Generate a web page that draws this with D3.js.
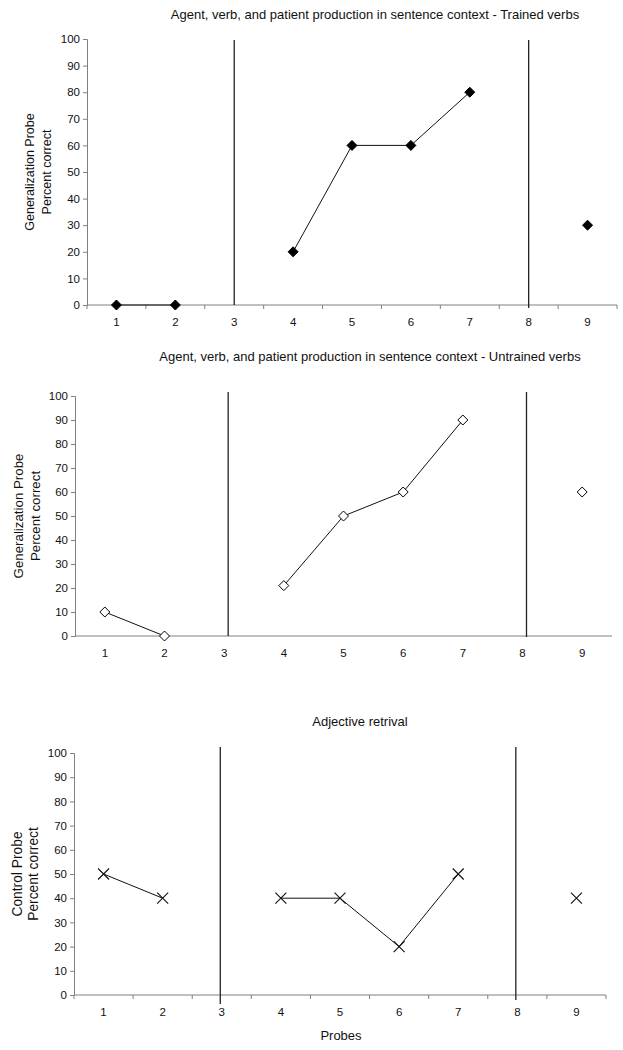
<!DOCTYPE html>
<html>
<head>
<meta charset="utf-8">
<script src="https://d3js.org/d3.v7.min.js"></script>
<style>
  body { margin: 0; background: #fff; }
  text { font-family: "Liberation Sans", Arial, sans-serif; fill: #111; }
</style>
</head>
<body>
<div id="chart"></div>
<script>
// probe sessions (3 and 8 are phase-change lines, no data)
var probes = [1, 2, 3, 4, 5, 6, 7, 8, 9];
var yTicks = [0, 10, 20, 30, 40, 50, 60, 70, 80, 90, 100];
var phaseLines = [3, 8];

var trainedVerbs   = [0, 0, null, 20, 60, 60, 80, null, 30];
var untrainedVerbs = [10, 0, null, 21, 50, 60, 90, null, 60];
var adjectives     = [50, 40, null, 40, 40, 20, 50, null, 40];

var titles = [
  "Agent, verb, and patient production in sentence context - Trained verbs",
  "Agent, verb, and patient production in sentence context - Untrained verbs",
  "Adjective retrival"
];
var yTitles = [
  ["Generalization Probe", "Percent correct"],
  ["Generalization Probe", "Percent correct"],
  ["Control Probe", "Percent correct"]
];

var svg = d3.select("#chart").append("svg")
  .attr("width", 623)
  .attr("height", 1050);

// layout of each panel
var panels = [
  {values: trainedVerbs, marker: "filled", left: 87, right: 617, top: 39, bottom: 305,
   titleX: 375, titleY: 19, yt1: 30, yt2: 47, ytSize: 12.5, xTicks: true,
   lineTop: 40, lineBottom: [305, 308], lineShift: 0},
  {values: untrainedVerbs, marker: "open", left: 75, right: 612, top: 396, bottom: 636,
   titleX: 370, titleY: 361, yt1: 18, yt2: 35, ytSize: 13.3, xTicks: false,
   lineTop: 392, lineBottom: [636, 637], lineShift: 4},
  {values: adjectives, marker: "cross", left: 74, right: 606, top: 753, bottom: 995,
   titleX: 360, titleY: 726, yt1: 17, yt2: 33, ytSize: 13.8, xTicks: true,
   lineTop: 747, lineBottom: [1004, 1000], lineShift: -1.5}
];

panels.forEach(function(p, i) {
  var x = d3.scaleBand().domain(probes).range([p.left, p.right]);
  var y = d3.scaleLinear().domain([0, 100]).range([p.bottom, p.top]);
  var cx = function(d) { return x(d) + x.bandwidth() / 2; };
  var g = svg.append("g");

  // title
  g.append("text")
    .attr("x", p.titleX).attr("y", p.titleY)
    .attr("text-anchor", "middle")
    .style("font-size", "13px")
    .text(titles[i]);

  // y axis
  var yAxis = d3.axisLeft(y).tickValues(yTicks).tickSize(4).tickPadding(3);
  var ya = g.append("g").attr("transform", "translate(" + p.left + ",0)").call(yAxis);
  ya.select(".domain").attr("stroke", "#808080");
  ya.selectAll(".tick line").attr("stroke", "#808080");
  ya.selectAll("text").style("font-size", "11.5px").attr("fill", "#111");

  // x axis line
  g.append("line")
    .attr("x1", p.left).attr("x2", p.right)
    .attr("y1", p.bottom).attr("y2", p.bottom)
    .attr("stroke", "#808080");

  // tick marks between probes
  if (p.xTicks) {
    g.selectAll(".xt").data(probes.concat([10])).enter().append("line")
      .attr("x1", function(d) { return d === 10 ? p.right : x(d); })
      .attr("x2", function(d) { return d === 10 ? p.right : x(d); })
      .attr("y1", p.bottom).attr("y2", p.bottom + 4)
      .attr("stroke", "#808080");
  }

  // x tick labels
  g.selectAll(".xl").data(probes).enter().append("text")
    .attr("x", cx)
    .attr("y", p.bottom + 21)
    .attr("text-anchor", "middle")
    .style("font-size", "11.5px")
    .text(function(d) { return d; });

  // phase change lines
  g.selectAll(".phase").data(phaseLines).enter().append("line")
    .attr("x1", function(d) { return cx(d) + p.lineShift; })
    .attr("x2", function(d) { return cx(d) + p.lineShift; })
    .attr("y1", p.lineTop)
    .attr("y2", function(d, j) { return p.lineBottom[j]; })
    .attr("stroke", "#222").attr("stroke-width", 1.3);

  // y title
  var yMid = (p.top + p.bottom) / 2;
  [p.yt1, p.yt2].forEach(function(tx, k) {
    g.append("text")
      .attr("transform", "translate(" + tx + "," + yMid + ") rotate(-90)")
      .attr("text-anchor", "middle")
      .attr("dy", "0.35em")
      .style("font-size", p.ytSize + "px")
      .text(yTitles[i][k]);
  });

  // data line
  var pts = probes.map(function(d, j) { return {p: d, v: p.values[j]}; });
  var line = d3.line()
    .defined(function(d) { return d.v !== null; })
    .x(function(d) { return cx(d.p); })
    .y(function(d) { return y(d.v); });
  g.append("path").datum(pts)
    .attr("d", line)
    .attr("fill", "none")
    .attr("stroke", "#111")
    .attr("stroke-width", 1);

  // markers
  var valid = pts.filter(function(d) { return d.v !== null; });
  if (p.marker === "cross") {
    var s = 5.5;
    g.selectAll(".mk").data(valid).enter().append("path")
      .attr("d", function(d) {
        var a = cx(d.p), b = y(d.v);
        return "M" + (a - s) + "," + (b - s) + "L" + (a + s) + "," + (b + s) +
               "M" + (a - s) + "," + (b + s) + "L" + (a + s) + "," + (b - s);
      })
      .attr("stroke", "#111").attr("stroke-width", 1.1).attr("fill", "none");
  } else {
    var r = p.marker === "filled" ? 5 : 5;
    g.selectAll(".mk").data(valid).enter().append("path")
      .attr("d", function(d) {
        var a = cx(d.p), b = y(d.v);
        return "M" + a + "," + (b - r) + "L" + (a + r) + "," + b +
               "L" + a + "," + (b + r) + "L" + (a - r) + "," + b + "Z";
      })
      .attr("fill", p.marker === "filled" ? "#000" : "#fff")
      .attr("stroke", "#000").attr("stroke-width", 1);
  }
});

// x axis title
svg.append("text")
  .attr("x", 341).attr("y", 1040)
  .attr("text-anchor", "middle")
  .style("font-size", "13px")
  .text("Probes");
</script>
</body>
</html>
